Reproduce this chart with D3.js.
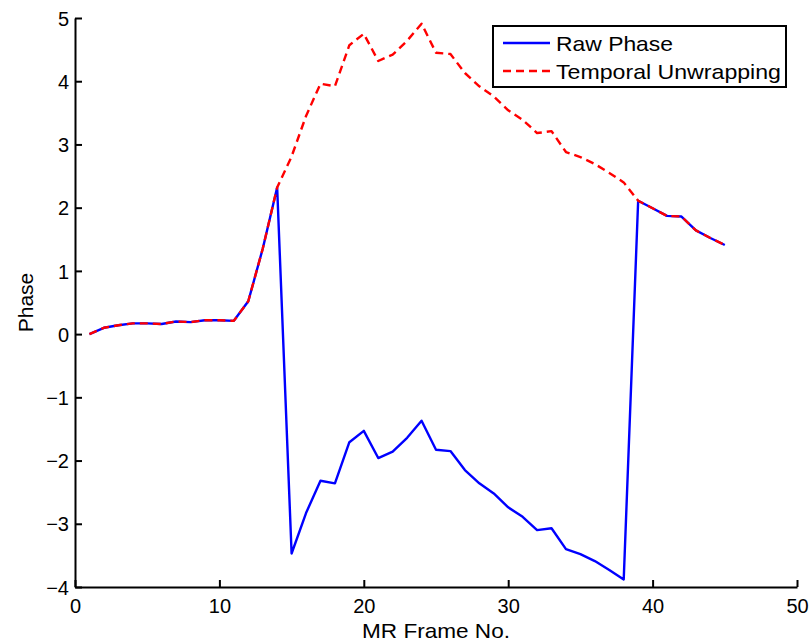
<!DOCTYPE html>
<html>
<head>
<meta charset="utf-8">
<script src="https://cdn.jsdelivr.net/npm/d3@7"></script>
<style>
  html, body { margin: 0; padding: 0; background: #fff; }
  text { font-family: "Liberation Sans", Arial, Helvetica, sans-serif; fill: #000; }
</style>
</head>
<body>
<svg id="chart" width="811" height="643"></svg>
<script>
// ---- data ----
const frames = d3.range(1, 46);
const rawPhase = [
  0.00, 0.10, 0.14, 0.17, 0.17, 0.16, 0.20, 0.19, 0.22, 0.22,
  0.21, 0.52, 1.35, 2.32, -3.47, -2.83, -2.32, -2.36, -1.71, -1.53,
  -1.96, -1.86, -1.64, -1.37, -1.83, -1.85, -2.15, -2.36, -2.52, -2.74,
  -2.89, -3.10, -3.07, -3.40, -3.48, -3.59, -3.73, -3.88, 2.11, 1.99,
  1.87, 1.86, 1.64, 1.52, 1.41
];
const unwrapped = [
  0.00, 0.10, 0.14, 0.17, 0.17, 0.16, 0.20, 0.19, 0.22, 0.22,
  0.21, 0.52, 1.35, 2.32, 2.81, 3.45, 3.96, 3.92, 4.57, 4.75,
  4.32, 4.42, 4.64, 4.91, 4.45, 4.43, 4.13, 3.92, 3.76, 3.54,
  3.39, 3.18, 3.21, 2.88, 2.80, 2.69, 2.55, 2.40, 2.11, 1.99,
  1.87, 1.86, 1.64, 1.52, 1.41
];
const xTicks = [0, 10, 20, 30, 40, 50];
const yTicks = [-4, -3, -2, -1, 0, 1, 2, 3, 4, 5];
const seriesNames = ["Raw Phase", "Temporal Unwrapping"];
const xLabel = "MR Frame No.";
const yLabel = "Phase";

// ---- layout ----
const svg = d3.select("#chart");
const mLeft = 75, mRight = 797, mTop = 18, mBottom = 587;
const x = d3.scaleLinear().domain([0, 50]).range([mLeft, mRight]);
const y = d3.scaleLinear().domain([-4, 5]).range([mBottom, mTop]);

// lines
const line = d3.line().x((d, i) => x(frames[i])).y(d => y(d));
svg.append("path").datum(rawPhase)
  .attr("d", line).attr("fill", "none")
  .attr("stroke", "#0000ff").attr("stroke-width", 2.4).attr("stroke-linejoin", "round");
svg.append("path").datum(unwrapped)
  .attr("d", line).attr("fill", "none")
  .attr("stroke", "#ff0000").attr("stroke-width", 2.4)
  .attr("stroke-dasharray", "8,5").attr("stroke-linejoin", "round");

// axes
const xAxis = d3.axisBottom(x).tickValues(xTicks).tickSizeInner(-7).tickSizeOuter(0).tickPadding(14);
const yAxis = d3.axisLeft(y).tickValues(yTicks).tickSizeInner(-7).tickSizeOuter(0).tickPadding(14)
  .tickFormat(d => d < 0 ? "\u2212" + Math.abs(d) : d);

const gx = svg.append("g").attr("transform", `translate(0,${mBottom})`).call(xAxis);
const gy = svg.append("g").attr("transform", `translate(${mLeft},0)`).call(yAxis);
[gx, gy].forEach(g => {
  g.select(".domain").attr("stroke", "#000").attr("stroke-width", 2);
  g.selectAll(".tick line").attr("stroke", "#000").attr("stroke-width", 2);
  g.selectAll(".tick text").attr("font-size", 20).attr("font-family", "Liberation Sans, Arial, sans-serif").attr("fill", "#000");
});
gx.selectAll(".tick text").attr("dy", "0.71em").attr("y", 12);
gy.selectAll(".tick text").attr("x", -6).attr("dy", "0.36em");

// axis labels
svg.append("text").attr("x", (mLeft + mRight) / 2).attr("y", 638)
  .attr("text-anchor", "middle").attr("font-size", 21)
  .attr("textLength", 148).attr("lengthAdjust", "spacingAndGlyphs")
  .text(xLabel);
svg.append("text").attr("transform", `translate(33,${(mTop + mBottom) / 2}) rotate(-90)`)
  .attr("text-anchor", "middle").attr("font-size", 21)
  .text(yLabel);

// legend
const lg = svg.append("g");
lg.append("rect").attr("x", 493).attr("y", 26).attr("width", 293).attr("height", 61)
  .attr("fill", "#fff").attr("stroke", "#000").attr("stroke-width", 2);
const legendRows = [
  { name: seriesNames[0], color: "#0000ff", dash: null, yy: 43, len: 117 },
  { name: seriesNames[1], color: "#ff0000", dash: "8,5", yy: 71, len: 225 }
];
legendRows.forEach(r => {
  lg.append("line").attr("x1", 503).attr("x2", 550).attr("y1", r.yy).attr("y2", r.yy)
    .attr("stroke", r.color).attr("stroke-width", 2.4)
    .attr("stroke-dasharray", r.dash);
  lg.append("text").attr("x", 556).attr("y", r.yy + 7.5)
    .attr("font-size", 21).attr("textLength", r.len).attr("lengthAdjust", "spacingAndGlyphs")
    .text(r.name);
});
</script>
</body>
</html>
